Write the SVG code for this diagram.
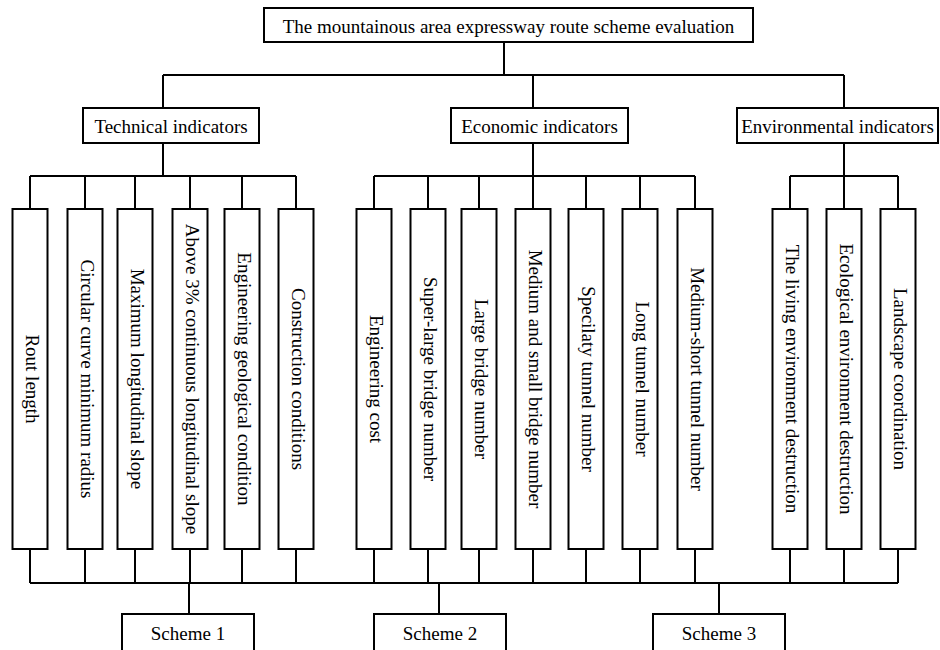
<svg xmlns="http://www.w3.org/2000/svg" width="940" height="650" viewBox="0 0 940 650">
<style>
.box{fill:#fff;stroke:#000;stroke-width:2}
.ln{fill:none;stroke:#000;stroke-width:2}
text{font-family:"Liberation Serif","Times New Roman",serif;font-size:19px;fill:#000;text-anchor:middle}
</style>
<rect width="940" height="650" fill="#fff"/>
<g id="connectors" class="ln">
<path d="M504 42V75M163 75H844M163 75V108M533 75V108M844 75V108"/>
<path d="M163 143V176M30 176H296M30 176V209M85 176V209M135 176V209M190 176V209M242 176V209M296 176V209"/>
<path d="M533 143V176M374 176H695M374 176V209M428 176V209M479 176V209M533 176V209M586 176V209M640 176V209M695 176V209"/>
<path d="M844 143V176M790 176H898M790 176V209M844 176V209M898 176V209"/>
<path d="M30 549V583M85 549V583M135 549V583M190 549V583M242 549V583M296 549V583M374 549V583M428 549V583M479 549V583M533 549V583M586 549V583M640 549V583M695 549V583M790 549V583M844 549V583M898 549V583M30 583H898"/>
<path d="M189 583V614M439 583V614M719 583V614"/>
</g>
<g id="root"><rect class="box" x="264" y="8" width="489" height="34"/><text x="508.5" y="32.5">The mountainous area expressway route scheme evaluation</text></g>
<g id="technical"><rect class="box" x="83" y="108" width="176" height="35"/><text x="171" y="132.5">Technical indicators</text></g>
<g id="economic"><rect class="box" x="451" y="108" width="177" height="35"/><text x="539.5" y="132.5">Economic indicators</text></g>
<g id="environmental"><rect class="box" x="737" y="108" width="201" height="35"/><text x="837.5" y="132.5">Environmental indicators</text></g>
<g id="t1"><rect class="box" x="12.5" y="209" width="35" height="340"/><text x="30" y="383.5" transform="rotate(90 30 379)">Rout length</text></g>
<g id="t2"><rect class="box" x="67.5" y="209" width="35" height="340"/><text x="85" y="383.5" transform="rotate(90 85 379)">Circular curve minimum radius</text></g>
<g id="t3"><rect class="box" x="117.5" y="209" width="35" height="340"/><text x="135" y="383.5" transform="rotate(90 135 379)">Maximum longitudinal slope</text></g>
<g id="t4"><rect class="box" x="172.5" y="209" width="35" height="340"/><text x="190" y="383.5" transform="rotate(90 190 379)">Above 3% continuous longitudinal slope</text></g>
<g id="t5"><rect class="box" x="224.5" y="209" width="35" height="340"/><text x="242" y="383.5" transform="rotate(90 242 379)">Engineering geological condition</text></g>
<g id="t6"><rect class="box" x="278.5" y="209" width="35" height="340"/><text x="296" y="383.5" transform="rotate(90 296 379)">Construction conditions</text></g>
<g id="e1"><rect class="box" x="356.5" y="209" width="35" height="340"/><text x="374" y="383.5" transform="rotate(90 374 379)">Engineering cost</text></g>
<g id="e2"><rect class="box" x="410.5" y="209" width="35" height="340"/><text x="428" y="383.5" transform="rotate(90 428 379)">Super-large bridge number</text></g>
<g id="e3"><rect class="box" x="461.5" y="209" width="35" height="340"/><text x="479" y="383.5" transform="rotate(90 479 379)">Large bridge number</text></g>
<g id="e4"><rect class="box" x="515.5" y="209" width="35" height="340"/><text x="533" y="383.5" transform="rotate(90 533 379)">Medium and small bridge number</text></g>
<g id="e5"><rect class="box" x="568.5" y="209" width="35" height="340"/><text x="586" y="383.5" transform="rotate(90 586 379)">Specilaty tunnel number</text></g>
<g id="e6"><rect class="box" x="622.5" y="209" width="35" height="340"/><text x="640" y="383.5" transform="rotate(90 640 379)">Long tunnel number</text></g>
<g id="e7"><rect class="box" x="677.5" y="209" width="35" height="340"/><text x="695" y="383.5" transform="rotate(90 695 379)">Medium-short tunnel number</text></g>
<g id="v1"><rect class="box" x="772.5" y="209" width="35" height="340"/><text x="790" y="383.5" transform="rotate(90 790 379)">The living environment destruction</text></g>
<g id="v2"><rect class="box" x="826.5" y="209" width="35" height="340"/><text x="844" y="383.5" transform="rotate(90 844 379)">Ecological environment destruction</text></g>
<g id="v3"><rect class="box" x="880.5" y="209" width="35" height="340"/><text x="898" y="383.5" transform="rotate(90 898 379)">Landscape coordination</text></g>
<g id="s1"><rect class="box" x="122" y="614" width="132" height="40"/><text x="188" y="640">Scheme 1</text></g>
<g id="s2"><rect class="box" x="374" y="614" width="132" height="40"/><text x="440" y="640">Scheme 2</text></g>
<g id="s3"><rect class="box" x="653" y="614" width="132" height="40"/><text x="719" y="640">Scheme 3</text></g>
</svg>
